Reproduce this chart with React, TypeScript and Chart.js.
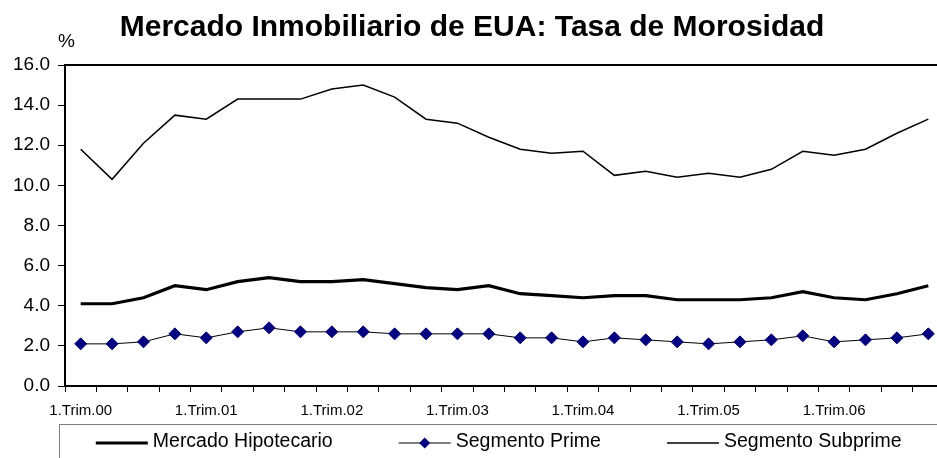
import { useEffect, useRef } from "react";
import { Chart, registerables } from "chart.js";

Chart.register(...registerables);

const quarters = [
  "1.Trim.00", "2.Trim.00", "3.Trim.00", "4.Trim.00",
  "1.Trim.01", "2.Trim.01", "3.Trim.01", "4.Trim.01",
  "1.Trim.02", "2.Trim.02", "3.Trim.02", "4.Trim.02",
  "1.Trim.03", "2.Trim.03", "3.Trim.03", "4.Trim.03",
  "1.Trim.04", "2.Trim.04", "3.Trim.04", "4.Trim.04",
  "1.Trim.05", "2.Trim.05", "3.Trim.05", "4.Trim.05",
  "1.Trim.06", "2.Trim.06", "3.Trim.06", "4.Trim.06",
];

const mercadoHipotecario = [
  4.1, 4.1, 4.4, 5.0, 4.8, 5.2, 5.4, 5.2, 5.2, 5.3, 5.1, 4.9, 4.8, 5.0,
  4.6, 4.5, 4.4, 4.5, 4.5, 4.3, 4.3, 4.3, 4.4, 4.7, 4.4, 4.3, 4.6, 5.0,
];

const segmentoPrime = [
  2.1, 2.1, 2.2, 2.6, 2.4, 2.7, 2.9, 2.7, 2.7, 2.7, 2.6, 2.6, 2.6, 2.6,
  2.4, 2.4, 2.2, 2.4, 2.3, 2.2, 2.1, 2.2, 2.3, 2.5, 2.2, 2.3, 2.4, 2.6,
];

const segmentoSubprime = [
  11.8, 10.3, 12.1, 13.5, 13.3, 14.3, 14.3, 14.3, 14.8, 15.0, 14.4, 13.3, 13.1, 12.4,
  11.8, 11.6, 11.7, 10.5, 10.7, 10.4, 10.6, 10.4, 10.8, 11.7, 11.5, 11.8, 12.6, 13.3,
];

const seriesNames = ["Mercado Hipotecario", "Segmento Prime", "Segmento Subprime"];
const chartTitle = "Mercado Inmobiliario de EUA: Tasa de Morosidad";
const unitLabel = "%";

const FONT = "'Liberation Sans', Arial, Helvetica, sans-serif";

const frameAndLegend = {
  id: "frameAndLegend",
  afterDraw(chart: any) {
    const { ctx, chartArea: a } = chart;
    ctx.save();
    // plot-area frame (top and right sides)
    ctx.strokeStyle = "#000";
    ctx.lineWidth = 2;
    ctx.beginPath();
    ctx.moveTo(a.left, a.top);
    ctx.lineTo(a.right, a.top);
    ctx.lineTo(a.right, a.bottom);
    ctx.stroke();

    // unit label
    ctx.fillStyle = "#000";
    ctx.font = `19px ${FONT}`;
    ctx.textAlign = "left";
    ctx.textBaseline = "alphabetic";
    ctx.fillText(unitLabel, a.left - 7, a.top - 18);

    // legend box
    const boxLeft = a.left - 5.5;
    const boxRight = chart.width - 13;
    const boxTop = a.bottom + 38.5;
    ctx.strokeStyle = "#808080";
    ctx.lineWidth = 1;
    ctx.strokeRect(boxLeft, boxTop, boxRight - boxLeft, chart.height + 10 - boxTop);

    ctx.font = `19.5px ${FONT}`;
    const lineLen = 52;
    const gap = 5;
    const itemGap = 66;
    const datasets = chart.data.datasets;
    const widths = datasets.map((d: any) => lineLen + gap + ctx.measureText(d.label).width);
    const total = widths.reduce((s: number, w: number) => s + w, 0) + itemGap * (datasets.length - 1);
    let x = (boxLeft + boxRight) / 2 - total / 2;
    const ly = boxTop + 18.5;
    datasets.forEach((d: any, i: number) => {
      ctx.strokeStyle = d.borderColor;
      ctx.lineWidth = d.borderWidth;
      ctx.beginPath();
      ctx.moveTo(x, ly);
      ctx.lineTo(x + lineLen, ly);
      ctx.stroke();
      if (d.pointRadius > 0) {
        const r = d.pointRadius - 0.5;
        const cx = x + lineLen / 2;
        ctx.fillStyle = d.pointBackgroundColor;
        ctx.beginPath();
        ctx.moveTo(cx, ly - r);
        ctx.lineTo(cx + r, ly);
        ctx.lineTo(cx, ly + r);
        ctx.lineTo(cx - r, ly);
        ctx.closePath();
        ctx.fill();
      }
      ctx.fillStyle = "#000";
      ctx.textBaseline = "middle";
      ctx.textAlign = "left";
      ctx.fillText(d.label, x + lineLen + gap, ly - 1);
      x += widths[i] + itemGap;
    });
    ctx.restore();
  },
};

export default function App() {
  const canvasRef = useRef<HTMLCanvasElement | null>(null);

  useEffect(() => {
    const canvas = canvasRef.current;
    if (!canvas) return;
    const chart = new Chart(canvas, {
      type: "line",
      data: {
        labels: quarters,
        datasets: [
          {
            label: seriesNames[0],
            data: mercadoHipotecario,
            borderColor: "#000000",
            backgroundColor: "#000000",
            borderWidth: 3.2,
            pointRadius: 0,
            tension: 0,
          },
          {
            label: seriesNames[1],
            data: segmentoPrime,
            borderColor: "#000000",
            backgroundColor: "#000080",
            borderWidth: 1,
            pointStyle: "rectRot",
            pointRadius: 6,
            pointBackgroundColor: "#000080",
            pointBorderColor: "#000080",
            pointBorderWidth: 1,
            tension: 0,
          },
          {
            label: seriesNames[2],
            data: segmentoSubprime,
            borderColor: "#000000",
            backgroundColor: "#000000",
            borderWidth: 1.5,
            pointRadius: 0,
            tension: 0,
          },
        ],
      },
      options: {
        responsive: false,
        animation: false,
        devicePixelRatio: 1,
        layout: { padding: { left: 0, right: 0, top: 0, bottom: 50 } },
        plugins: {
          legend: { display: false },
          tooltip: { enabled: false },
          title: {
            display: true,
            text: chartTitle,
            color: "#000",
            font: { family: FONT, size: 30, weight: "bold" },
            padding: { top: 9.5, bottom: 19.5 },
          },
        },
        scales: {
          x: {
            offset: true,
            grid: {
              offset: true,
              drawOnChartArea: false,
              color: "#000",
              tickLength: 6,
              lineWidth: 1,
            },
            border: { color: "#000", width: 2 },
            ticks: {
              autoSkip: false,
              maxRotation: 0,
              minRotation: 0,
              padding: 10,
              color: "#000",
              font: { family: FONT, size: 15 },
              callback: (_v: any, i: number) => (quarters[i].startsWith("1.") ? quarters[i] : ""),
            },
          },
          y: {
            min: 0,
            max: 16,
            afterFit: (s: any) => {
              s.width = 72;
            },
            grid: { drawOnChartArea: false, color: "#000", tickLength: 7 },
            border: { color: "#000", width: 2 },
            ticks: {
              stepSize: 2,
              padding: 8,
              color: "#000",
              font: { family: FONT, size: 19 },
              callback: (v: any) => Number(v).toFixed(1),
            },
          },
        },
      },
      plugins: [frameAndLegend],
    });
    return () => chart.destroy();
  }, []);

  return (
    <div
      style={{
        position: "fixed",
        left: 0,
        top: 0,
        width: 937,
        height: 458,
        overflow: "hidden",
        background: "#fff",
      }}
    >
      <canvas
        ref={canvasRef}
        width={958}
        height={480}
        style={{ position: "absolute", left: -7, top: 0 }}
      />
    </div>
  );
}
